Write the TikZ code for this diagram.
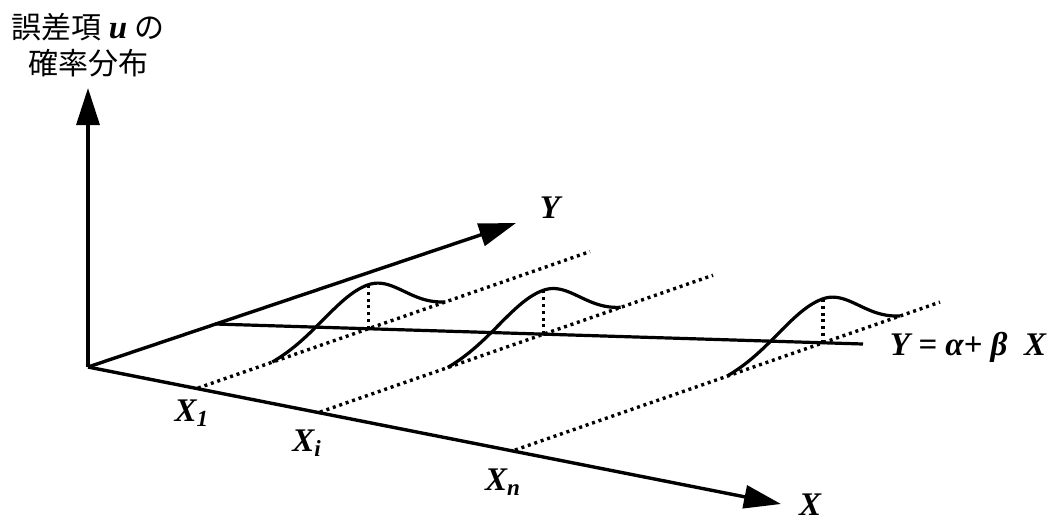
\documentclass[tikz,border=0pt]{standalone}
\usepackage{amsmath}
\usepackage{fontspec}
\setmainfont{Liberation Serif}
\newfontfamily\jafont{Noto Sans CJK JP}
\usetikzlibrary{arrows.meta, calc, intersections}

\begin{document}
\begin{tikzpicture}[
  x=0.5pt, y=-0.5pt,
  axis/.style={line width=1.7pt, -{Triangle[length=18.5pt, width=11.5pt]}},
  plain/.style={line width=1.6pt},
  guide/.style={line width=1.7pt, dash pattern=on 1.5pt off 1.9pt},
  density/.style={line width=1.6pt, smooth},
  lbl/.style={font=\fontsize{16.5}{18}\selectfont\bfseries\itshape, inner sep=0pt},
  jlbl/.style={font=\fontsize{15}{17}\selectfont, align=center, inner sep=0pt}
]
  \useasboundingbox (0,0) rectangle (1061,521);

  % Axes
  \coordinate (O) at (88,367);
  \coordinate (utip) at (88,88);
  \coordinate (ytip) at (516,223);
  \coordinate (xtip) at (781,504);
  \draw[axis] (O) -- (utip);
  \draw[axis] (O) -- (ytip);
  \draw[axis] (O) -- (xtip);

  % Regression line
  \coordinate (r0) at (215,324);
  \coordinate (r1) at (863,344);
  \draw[plain, name path=reg] (r0) -- (r1);

  % Points on the X axis
  \coordinate (x1) at (198,388);
  \coordinate (xi) at (320,412);
  \coordinate (xn) at (515,450);

  % Dotted guides and error densities
  \foreach \k/\dx in {1/392, i/393, n/425} {
    \coordinate (d\k) at ($(x\k)+(\dx,{-0.348*\dx})$);
    \draw[guide, name path=g\k] (x\k) -- (d\k);
    \path[name intersections={of=reg and g\k, by=c\k}];
    \coordinate (p\k) at ($(c\k)+(0,-44)$);
    \draw[guide] (c\k) -- (p\k);
    \draw[density, shift={(c\k)}] plot[domain=-96:77, samples=70]
      (\x, {-0.348*\x - 44*(exp(-\x*\x/((\x<0) ? 4050 : 2592)) - 0.1)/0.9});
  }

  % Labels
  \node[jlbl] (lu) at (88,45)
    {{\jafont 誤差項}\ {\bfseries\itshape\fontsize{16.5}{17}\selectfont u}\ {\jafont の}\\[1pt]{\jafont 確率分布}};
  \node[lbl] (lyaxis) at (550,208) {Y};
  \node[lbl] (lxaxis) at (810,505) {X};
  \node[lbl] (lx1) at (192,413) {X$_{\textit{1}}$};
  \node[lbl] (lxi) at (307,443) {X$_{\textit{i}}$};
  \node[lbl] (lxn) at (503,482) {X$_{\textit{n}}$};
  \node[lbl] (leq) at (968,347) {Y = α+ β~~X};
\end{tikzpicture}
\end{document}
